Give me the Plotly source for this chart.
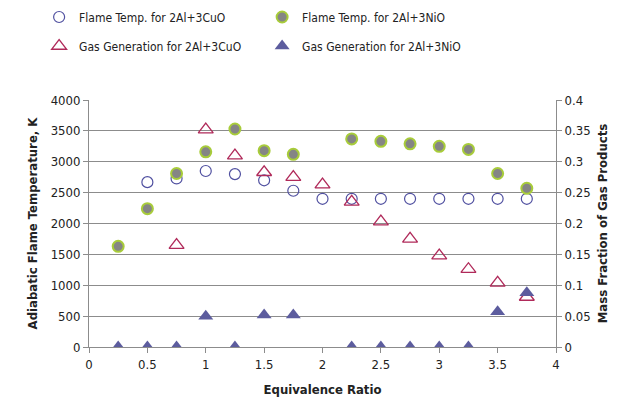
import plotly.graph_objects as go

x_cuo_temp = [0.5, 0.75, 1.0, 1.25, 1.5, 1.75, 2.0, 2.25, 2.5, 2.75, 3.0, 3.25, 3.5, 3.75]
temp_cuo = [2670, 2730, 2850, 2800, 2700, 2530, 2400, 2400, 2400, 2400, 2400, 2400, 2400, 2400]

x_nio_temp = [0.25, 0.5, 0.75, 1.0, 1.25, 1.5, 1.75, 2.25, 2.5, 2.75, 3.0, 3.25, 3.5, 3.75]
temp_nio = [1630, 2240, 2810, 3160, 3530, 3180, 3120, 3370, 3330, 3290, 3250, 3200, 2810, 2570]

x_cuo_gas = [0.75, 1.0, 1.25, 1.5, 1.75, 2.0, 2.25, 2.5, 2.75, 3.0, 3.25, 3.5, 3.75]
gas_cuo = [0.165, 0.352, 0.31, 0.283, 0.275, 0.263, 0.235, 0.203, 0.175, 0.148, 0.126, 0.104, 0.081]

x_nio_gas = [0.25, 0.5, 0.75, 1.0, 1.25, 1.5, 1.75, 2.25, 2.5, 2.75, 3.0, 3.25, 3.5, 3.75]
gas_nio = [0, 0, 0, 0.05, 0, 0.052, 0.052, 0, 0, 0, 0, 0, 0.057, 0.088]

x_ticks = [0, 0.5, 1, 1.5, 2, 2.5, 3, 3.5, 4]
x_tick_labels = ["0", "0.5", "1", "1.5", "2", "2.5", "3", "3.5", "4"]
y2_ticks = [0, 0.05, 0.1, 0.15, 0.2, 0.25, 0.3, 0.35, 0.4]
y2_tick_labels = ["0", "0.05", "0.1", "0.15", "0.2", "0.25", "0.3", "0.35", "0.4"]

FONT = "Liberation Sans Narrow, DejaVu Sans Condensed, Arial Narrow, Liberation Sans, sans-serif"
GRID = "#8c8c8c"

fig = go.Figure()
fig.add_trace(go.Scatter(
    x=x_cuo_temp, y=temp_cuo, mode="markers", name="Flame Temp. for 2Al+3CuO",
    marker=dict(symbol="circle-open", size=11, color="#5050a0", line=dict(width=1.2)),
    legend="legend"))
fig.add_trace(go.Scatter(
    x=x_nio_temp, y=temp_nio, mode="markers", name="Flame Temp. for 2Al+3NiO",
    marker=dict(symbol="circle", size=11, color="#858585", line=dict(width=2, color="#a8cc3a")),
    legend="legend"))
fig.add_trace(go.Scatter(
    x=x_cuo_gas, y=gas_cuo, mode="markers", name="Gas Generation for 2Al+3CuO",
    marker=dict(symbol="triangle-up-open", size=13, color="#b02a5a", line=dict(width=1.3)),
    yaxis="y2", legend="legend2"))
fig.add_trace(go.Scatter(
    x=x_nio_gas, y=gas_nio, mode="markers", name="Gas Generation for 2Al+3NiO",
    marker=dict(symbol="triangle-up", size=13, color="#5c5c9e"),
    yaxis="y2", legend="legend2"))

leg_common = dict(orientation="h", xref="container", yref="container",
                  xanchor="left", yanchor="middle", entrywidth=178, entrywidthmode="pixels",
                  font=dict(size=12, family=FONT), itemwidth=30, bgcolor="rgba(0,0,0,0)")

fig.update_layout(
    width=631, height=413,
    margin=dict(l=89, r=75, t=100, b=66, autoexpand=False),
    paper_bgcolor="white", plot_bgcolor="white",
    font=dict(family=FONT, size=13, color="#222"),
    showlegend=True,
    legend=dict(x=0.062, y=1 - 17 / 413, **leg_common),
    legend2=dict(x=0.062, y=1 - 46 / 413, **leg_common),
    xaxis=dict(range=[0, 4], tickvals=x_ticks, ticktext=x_tick_labels,
               showgrid=False, zeroline=False, showline=True, linecolor=GRID, linewidth=1,
               ticks="outside", ticklen=5, tickcolor=GRID,
               title=dict(text="<b>Equivalence Ratio</b>", font=dict(size=13, family=FONT), standoff=14)),
    yaxis=dict(range=[0, 4000], dtick=500, showgrid=True, gridcolor=GRID, gridwidth=1,
               zeroline=False, showline=True, linecolor=GRID, ticks="outside", ticklen=5,
               tickcolor=GRID,
               title=dict(text="<b>Adiabatic Flame Temperature, K</b>", font=dict(size=13, family=FONT), standoff=10)),
    yaxis2=dict(range=[0, 0.4], overlaying="y", side="right", showgrid=False,
                zeroline=False, showline=True, linecolor=GRID, ticks="outside", ticklen=5,
                tickcolor=GRID, tickvals=y2_ticks, ticktext=y2_tick_labels,
                title=dict(text="<b>Mass Fraction of Gas Products</b>", font=dict(size=13, family=FONT), standoff=8)),
)

fig.write_html("out.html")
